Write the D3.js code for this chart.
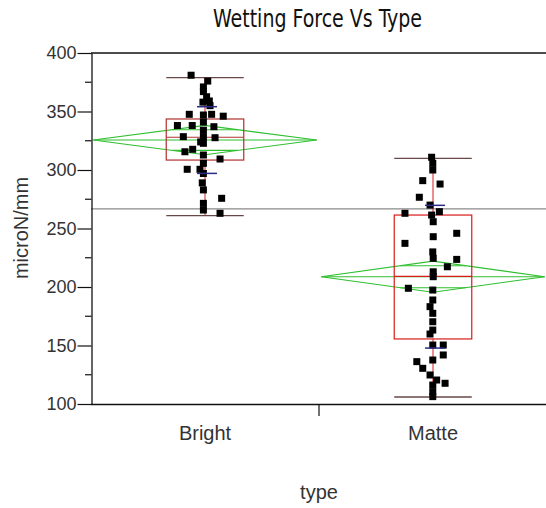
<!DOCTYPE html>
<html><head><meta charset="utf-8">
<script src="https://cdn.jsdelivr.net/npm/d3@7/dist/d3.min.js"></script>
<style>body{margin:0;background:#fff}</style>
</head><body>
<svg id="c" width="546" height="508"></svg>
<script>
// ---- data ----
const categories = ["Bright", "Matte"];
const yTicks = [100, 150, 200, 250, 300, 350, 400];
const yMinorTicks = [125, 175, 225, 275, 325, 375];

const brightValues = [381, 376, 371, 367, 362.6, 359, 358, 355, 347.6, 347, 347.6, 346, 338, 338, 341, 337, 334, 328.5, 328.5, 327.6, 324, 315.6, 317.7, 322.8, 312.8, 309.4, 305.7, 300.6, 300.6, 297, 289, 283, 275.8, 271.5, 265.8, 263];
const brightJitter = [-0.061, 0.012, -0.007, -0.007, 0.007, 0.019, -0.009, 0.022, -0.069, -0.007, 0.029, 0.080, -0.121, -0.056, -0.007, 0.039, -0.007, -0.095, -0.007, 0.044, -0.019, -0.088, -0.054, -0.007, -0.007, 0.066, -0.007, -0.078, -0.022, -0.007, -0.012, -0.007, 0.073, -0.007, -0.007, 0.066];

const matteValues = [310.9, 305.7, 300, 290.9, 288, 276.7, 270, 263, 264.4, 261.5, 255.8, 243, 245.9, 237.3, 230, 224.5, 223.6, 217.3, 213, 208.8, 198.9, 197.4, 188.9, 183.2, 177.5, 170.3, 163.2, 159.8, 150.4, 150.4, 141.9, 137.6, 136.2, 130.5, 124.8, 120.5, 117.7, 116.2, 110.5, 106.3];
const matteJitter = [-0.006, -0.001, -0.001, -0.045, 0.031, -0.060, -0.013, -0.123, 0.028, -0.006, 0.001, 0.001, 0.104, -0.123, -0.001, 0.001, 0.104, 0.063, 0.001, 0.001, -0.108, -0.001, -0.001, -0.013, -0.001, -0.001, -0.001, -0.013, -0.001, 0.045, 0.045, -0.001, -0.071, -0.045, -0.013, 0.016, 0.053, -0.001, -0.001, -0.001];

const whiskerLow  = [261, 106];
const quartile1   = [308.5, 155.6];
const medians     = [328, 209];
const quartile3   = [343.6, 261.5];
const whiskerHigh = [379, 310];
const means       = [325.6, 208.8];
const meanCI      = [12.5, 13.3];
const stdDevs     = [28.5, 61];
const grandMean   = 266.7;

// ---- drawing ----
const W = 546, H = 508;
const svg = d3.select("#c");
const x = d3.scaleBand().domain(categories).range([91, 547]).padding(0);
const y = d3.scaleLinear().domain([100, 400]).range([404, 53]);
const bw = x.bandwidth();
const jit = d3.scaleLinear().domain([-1, 1]).range([-bw, bw]);
const cx = c => x(c) + bw / 2;

const groups = [
  {cat: "Bright", vals: brightValues, jit: brightJitter},
  {cat: "Matte", vals: matteValues, jit: matteJitter}
];

// title
svg.append("text").attr("x", 317.5).attr("y", 27).attr("text-anchor", "middle")
  .attr("font-family", "'Liberation Sans Narrow','DejaVu Sans Condensed','Liberation Sans',sans-serif")
  .attr("font-size", 24).attr("fill", "#111")
  .attr("textLength", 209).attr("lengthAdjust", "spacingAndGlyphs")
  .text("Wetting Force Vs Type");

// grand mean line
svg.append("line").attr("x1", 91).attr("x2", W).attr("y1", y(grandMean)).attr("y2", y(grandMean))
  .attr("stroke", "#8a8a8a").attr("stroke-width", 1.2);

// means diamonds
const green = "#2fbf2f";
categories.forEach((c, i) => {
  const c0 = cx(c), hw = bw * 0.49;
  const m = y(means[i]), up = y(means[i] + meanCI[i]), dn = y(means[i] - meanCI[i]);
  const g = svg.append("g").attr("stroke", green).attr("fill", "none").attr("stroke-width", 1.1);
  g.append("path").attr("d", `M${c0 - hw},${m}L${c0},${up}L${c0 + hw},${m}L${c0},${dn}Z`);
  g.append("line").attr("x1", c0 - hw).attr("x2", c0 + hw).attr("y1", m).attr("y2", m);
  const k = 1 / Math.SQRT2;
  [1, -1].forEach(s => {
    const yy = y(means[i] + s * meanCI[i] * k);
    const half = hw * (1 - k);
    g.append("line").attr("x1", c0 - half).attr("x2", c0 + half).attr("y1", yy).attr("y2", yy);
  });
});

// box plots
const boxColors = ["#b03030", "#d81c1c"];
categories.forEach((c, i) => {
  const c0 = cx(c), bh = bw * 0.17;
  const g = svg.append("g").attr("fill", "none");
  g.append("line").attr("x1", c0).attr("x2", c0).attr("y1", y(quartile3[i])).attr("y2", y(whiskerHigh[i]))
    .attr("stroke", "#d81c1c");
  g.append("line").attr("x1", c0).attr("x2", c0).attr("y1", y(quartile1[i])).attr("y2", y(whiskerLow[i]))
    .attr("stroke", "#d81c1c");
  g.append("rect").attr("x", c0 - bh).attr("width", 2 * bh)
    .attr("y", y(quartile3[i])).attr("height", y(quartile1[i]) - y(quartile3[i]))
    .attr("stroke", boxColors[i]).attr("stroke-width", 1.2);
  g.append("line").attr("x1", c0 - bh).attr("x2", c0 + bh).attr("y1", y(medians[i])).attr("y2", y(medians[i]))
    .attr("stroke", boxColors[i]).attr("stroke-width", 1.2);
  [whiskerHigh[i], whiskerLow[i]].forEach(v => {
    g.append("line").attr("x1", c0 - bh).attr("x2", c0 + bh).attr("y1", y(v)).attr("y2", y(v))
      .attr("stroke", "#6a4848").attr("stroke-width", 1.3);
  });
});

// points
groups.forEach(gr => {
  svg.append("g").selectAll("rect").data(gr.vals).join("rect")
    .attr("x", (d, j) => cx(gr.cat) + jit(gr.jit[j]) - 3.5)
    .attr("y", d => y(d) - 3.5)
    .attr("width", 7).attr("height", 7).attr("fill", "#000");
});

// std dev lines
categories.forEach((c, i) => {
  const c0 = cx(c);
  [1, -1].forEach(s => {
    const yy = y(means[i] + s * stdDevs[i]);
    svg.append("line").attr("x1", c0 - 8).attr("x2", c0 + 12).attr("y1", yy).attr("y2", yy)
      .attr("stroke", "#2a2a8a").attr("stroke-width", 1.5);
  });
});

// frame top line
svg.append("line").attr("x1", 91).attr("x2", W).attr("y1", y(400)).attr("y2", y(400))
  .attr("stroke", "#111").attr("stroke-width", 1.3);

// y axis
const yAxis = svg.append("g").attr("transform", "translate(91.5,0)")
  .call(d3.axisLeft(y).tickValues(yTicks).tickSize(14).tickSizeOuter(0).tickPadding(1).tickFormat(d3.format("d")));
yAxis.select(".domain").attr("stroke", "#111").attr("stroke-width", 1.3);
yAxis.selectAll(".tick line").attr("stroke", "#111").attr("stroke-width", 1.2);
yAxis.selectAll("text").attr("font-family", "'Liberation Sans',Arial,sans-serif").attr("font-size", 18).attr("fill", "#333");
svg.append("g").selectAll("line").data(yMinorTicks).join("line")
  .attr("x1", 85).attr("x2", 91.5).attr("y1", d => y(d)).attr("y2", d => y(d))
  .attr("stroke", "#111").attr("stroke-width", 1.2);

// x axis
const xAxis = svg.append("g").attr("transform", `translate(0,${y(100)})`)
  .call(d3.axisBottom(x).tickSize(0).tickSizeOuter(0).tickPadding(22));
xAxis.select(".domain").attr("d", `M91,0.5H${W}`).attr("stroke", "#111").attr("stroke-width", 1.3);
xAxis.selectAll("text").attr("font-family", "'Liberation Sans',Arial,sans-serif").attr("font-size", 20).attr("fill", "#333");
svg.append("line").attr("x1", x("Matte")).attr("x2", x("Matte")).attr("y1", y(100)).attr("y2", y(100) + 12)
  .attr("stroke", "#111").attr("stroke-width", 1.2);

// axis titles
svg.append("text").attr("transform", "translate(28,228) rotate(-90)").attr("text-anchor", "middle")
  .attr("font-family", "'Liberation Sans',Arial,sans-serif").attr("font-size", 20).attr("fill", "#333")
  .text("microN/mm");
svg.append("text").attr("x", x("Matte")).attr("y", 499).attr("text-anchor", "middle")
  .attr("font-family", "'Liberation Sans',Arial,sans-serif").attr("font-size", 20).attr("fill", "#333")
  .text("type");
</script>
</body></html>
